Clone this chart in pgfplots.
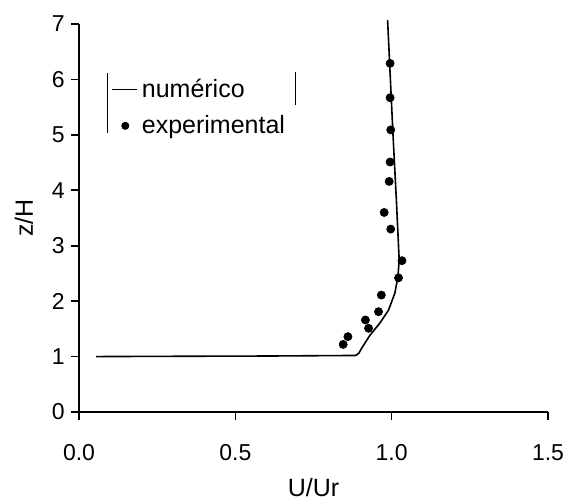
\documentclass[border=0pt]{standalone}
\usepackage{fontspec}
\setmainfont{Liberation Sans}
\usepackage{pgfplots}
\pgfplotsset{compat=1.18}
\begin{document}
\begin{tikzpicture}
\begin{axis}[
  scale only axis,
  width=234.5pt, height=194pt,
  xmin=0, xmax=1.5, ymin=0, ymax=7,
  axis x line=bottom, axis y line=left,
  axis line style={-, line width=0.9pt},
  xtick={0,0.5,1,1.5}, ytick={0,1,...,7},
  xticklabels={0.0,0.5,1.0,1.5},
  tick align=outside, major tick length=4pt,
  tick style={black, line width=0.8pt},
  /pgf/number format/assume math mode=true,
  tick label style={font=\fontsize{11.5}{13}\selectfont},
  yticklabel style={inner sep=0pt, xshift=-3pt},
  xticklabel style={inner sep=0pt, yshift=-12pt},
  xlabel={U/Ur}, ylabel={z/H},
  label style={font=\fontsize{12.5}{14}\selectfont},
  xlabel style={at={(axis description cs:0.5,-0.196)}, anchor=center},
  ylabel style={at={(axis description cs:-0.1173,0.5)}, anchor=center},
  clip=false,
  legend style={draw=none, fill=none, font=\fontsize{12.5}{14}\selectfont,
    at={(axis description cs:0.068,0.87)}, anchor=north west,
    row sep=3.5pt, inner sep=0pt, cells={anchor=west}},
]
\addplot[black, line width=0.8pt,
  legend image code/.code={\draw[black, line width=0.8pt] (0pt,0pt) -- (12.5pt,0pt);}]
 coordinates {
 (0.055,1.00) (0.3,1.005) (0.6,1.01) (0.885,1.02) (0.895,1.06) (0.905,1.16)
 (0.93,1.38) (0.963,1.61) (0.99,1.84) (1.01,2.14) (1.02,2.44) (1.024,2.74)
 (1.015,3.83) (1.004,5.03) (0.987,7.07)
 };
\addlegendentry{numérico}
\addplot[only marks, mark=*, mark size=2pt, black,
  legend image code/.code={\path[draw=none, fill=none] (0pt,0pt) -- (12.5pt,0pt); \fill[black] (6.6pt,0pt) circle (1.8pt);}]
 coordinates {
 (0.995,6.29) (0.995,5.67) (0.997,5.09) (0.995,4.51) (0.992,4.16)
 (0.976,3.60) (0.997,3.30) (1.033,2.73) (1.022,2.42) (0.967,2.11)
 (0.958,1.81) (0.916,1.66) (0.926,1.51) (0.860,1.36) (0.845,1.22)
 };
\addlegendentry{experimental}
\coordinate (O) at (rel axis cs:0,0);
\draw[line width=0.7pt] (rel axis cs:0.0614,0.874) -- (rel axis cs:0.0614,0.72);
\draw[line width=0.7pt] (rel axis cs:0.461,0.876) -- (rel axis cs:0.461,0.79);
\end{axis}
\pgfresetboundingbox
\path (O) ++(-39.5pt,-45pt) rectangle ++(282.5pt,251pt);
\end{tikzpicture}
\end{document}
